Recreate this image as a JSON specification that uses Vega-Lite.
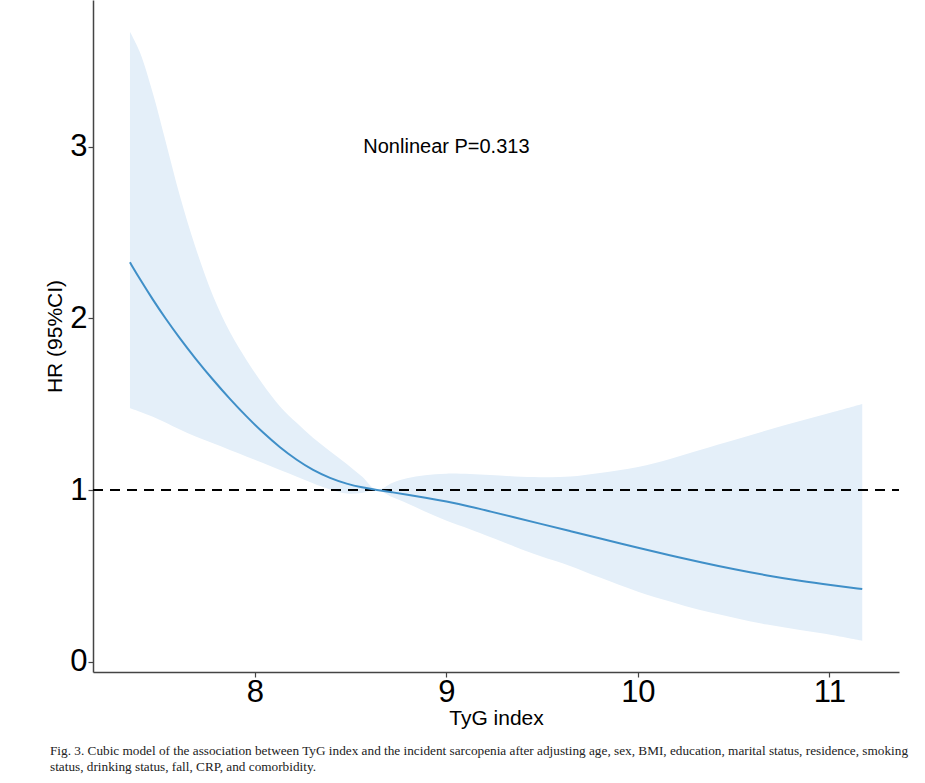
{
  "$schema": "https://vega.github.io/schema/vega-lite/v6.json",
  "autosize": {"type": "none"},
  "width": 806,
  "height": 672,
  "padding": {"left": 93, "top": 0, "right": 26, "bottom": 111},
  "background": "white",
  "config": {
    "view": {"stroke": null},
    "font": "Liberation Sans"
  },
  "title": {
    "text": [
      "Fig. 3.  Cubic model of the association between TyG index and the incident sarcopenia after adjusting age, sex, BMI, education, marital status, residence, smoking",
      "status, drinking status, fall, CRP, and comorbidity."
    ],
    "orient": "bottom",
    "anchor": "start",
    "frame": "group",
    "font": "Liberation Serif",
    "fontSize": 13.25,
    "fontWeight": "normal",
    "color": "#222222",
    "lineHeight": 16,
    "dx": -43,
    "offset": 17
  },
  "datasets": {
    "curve": [
      {"tyg": 7.347, "hr": 2.326, "lo": 1.476, "hi": 3.669},
      {"tyg": 7.399, "hr": 2.228, "lo": 1.456, "hi": 3.550},
      {"tyg": 7.467, "hr": 2.108, "lo": 1.427, "hi": 3.310},
      {"tyg": 7.530, "hr": 2.003, "lo": 1.395, "hi": 3.044},
      {"tyg": 7.608, "hr": 1.882, "lo": 1.352, "hi": 2.712},
      {"tyg": 7.687, "hr": 1.768, "lo": 1.313, "hi": 2.421},
      {"tyg": 7.781, "hr": 1.641, "lo": 1.272, "hi": 2.130},
      {"tyg": 7.869, "hr": 1.530, "lo": 1.233, "hi": 1.920},
      {"tyg": 7.958, "hr": 1.425, "lo": 1.194, "hi": 1.753},
      {"tyg": 8.042, "hr": 1.334, "lo": 1.157, "hi": 1.615},
      {"tyg": 8.131, "hr": 1.247, "lo": 1.116, "hi": 1.487},
      {"tyg": 8.219, "hr": 1.174, "lo": 1.077, "hi": 1.390},
      {"tyg": 8.303, "hr": 1.115, "lo": 1.039, "hi": 1.305},
      {"tyg": 8.392, "hr": 1.069, "lo": 1.003, "hi": 1.226},
      {"tyg": 8.481, "hr": 1.035, "lo": 0.979, "hi": 1.150},
      {"tyg": 8.559, "hr": 1.015, "lo": 0.983, "hi": 1.078},
      {"tyg": 8.637, "hr": 1.000, "lo": 1.000, "hi": 1.000},
      {"tyg": 8.716, "hr": 0.987, "lo": 0.959, "hi": 1.041},
      {"tyg": 8.794, "hr": 0.973, "lo": 0.923, "hi": 1.068},
      {"tyg": 8.888, "hr": 0.956, "lo": 0.875, "hi": 1.086},
      {"tyg": 8.998, "hr": 0.934, "lo": 0.822, "hi": 1.095},
      {"tyg": 9.123, "hr": 0.904, "lo": 0.771, "hi": 1.093},
      {"tyg": 9.228, "hr": 0.875, "lo": 0.726, "hi": 1.087},
      {"tyg": 9.358, "hr": 0.840, "lo": 0.670, "hi": 1.079},
      {"tyg": 9.489, "hr": 0.804, "lo": 0.615, "hi": 1.075},
      {"tyg": 9.646, "hr": 0.761, "lo": 0.558, "hi": 1.078},
      {"tyg": 9.802, "hr": 0.718, "lo": 0.490, "hi": 1.099},
      {"tyg": 10.001, "hr": 0.663, "lo": 0.408, "hi": 1.134},
      {"tyg": 10.168, "hr": 0.620, "lo": 0.351, "hi": 1.181},
      {"tyg": 10.325, "hr": 0.580, "lo": 0.301, "hi": 1.233},
      {"tyg": 10.508, "hr": 0.537, "lo": 0.255, "hi": 1.292},
      {"tyg": 10.675, "hr": 0.502, "lo": 0.216, "hi": 1.348},
      {"tyg": 10.847, "hr": 0.471, "lo": 0.184, "hi": 1.402},
      {"tyg": 11.020, "hr": 0.445, "lo": 0.154, "hi": 1.454},
      {"tyg": 11.172, "hr": 0.423, "lo": 0.122, "hi": 1.501}
    ],
    "ref": [{"hr": 1}],
    "note": [{"tyg": 9.0, "hr": 3.0, "label": "Nonlinear P=0.313"}]
  },
  "encoding": {
    "x": {
      "field": "tyg",
      "type": "quantitative",
      "scale": {"domain": [7.154, 11.364], "nice": false, "zero": false},
      "axis": {
        "title": "TyG index",
        "values": [8, 9, 10, 11],
        "grid": false,
        "domainColor": "#444444",
        "domainWidth": 1.5,
        "tickColor": "#444444",
        "tickWidth": 1.2,
        "tickSize": 5,
        "labelFontSize": 31,
        "labelColor": "#000000",
        "labelPadding": 0,
        "labelFont": "Liberation Sans",
        "titleFont": "Liberation Sans",
        "titleFontSize": 21,
        "titleFontWeight": "normal",
        "titleColor": "#000000",
        "titlePadding": 0
      }
    },
    "y": {
      "field": "hr",
      "type": "quantitative",
      "scale": {"domain": [-0.06, 3.854], "nice": false, "zero": false},
      "axis": {
        "title": "HR (95%CI)",
        "values": [0, 1, 2, 3],
        "grid": false,
        "domainColor": "#444444",
        "domainWidth": 1.5,
        "tickColor": "#444444",
        "tickWidth": 1.2,
        "tickSize": 5,
        "labelFontSize": 31,
        "labelColor": "#000000",
        "labelPadding": 1,
        "labelFont": "Liberation Sans",
        "titleFont": "Liberation Sans",
        "titleFontSize": 21,
        "titleFontWeight": "normal",
        "titleColor": "#000000",
        "titlePadding": 4
      }
    }
  },
  "layer": [
    {
      "data": {"name": "curve"},
      "mark": {"type": "area", "color": "#e4eff9", "opacity": 1, "interpolate": "catmull-rom"},
      "encoding": {
        "y": {"field": "lo", "type": "quantitative"},
        "y2": {"field": "hi"}
      }
    },
    {
      "data": {"name": "ref"},
      "mark": {"type": "rule", "color": "#000000", "strokeWidth": 2, "strokeDash": [10, 7]},
      "encoding": {
        "y": {"field": "hr", "type": "quantitative"},
        "x": {"value": 0},
        "x2": {"value": 806}
      }
    },
    {
      "data": {"name": "curve"},
      "mark": {"type": "line", "color": "#3f8fc8", "strokeWidth": 2, "interpolate": "basis"}
    },
    {
      "data": {"name": "note"},
      "mark": {"type": "text", "fontSize": 20, "font": "Liberation Sans", "color": "#000000", "align": "center", "baseline": "middle"},
      "encoding": {
        "text": {"field": "label"}
      }
    }
  ]
}
